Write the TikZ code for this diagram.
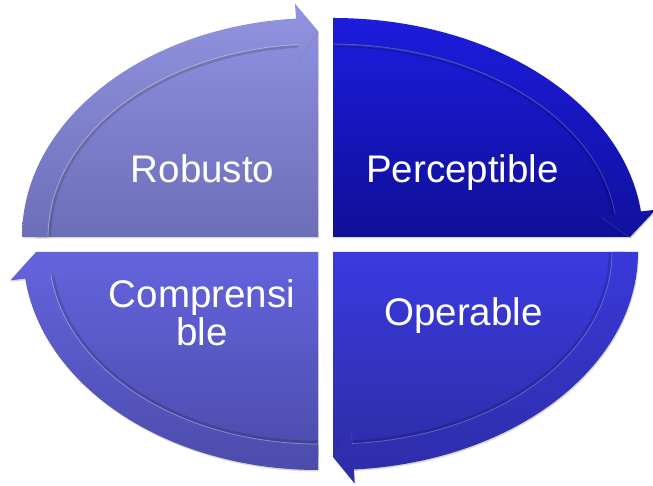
\documentclass[tikz,border=0pt]{standalone}
\usepackage{fontspec}
\setmainfont{Liberation Sans}
\usetikzlibrary{shadows}
\definecolor{tlA}{HTML}{8C8EDF}\definecolor{tlB}{HTML}{6C6EB8}
\definecolor{trA}{HTML}{1C1CDC}\definecolor{trB}{HTML}{0F0F98}
\definecolor{blA}{HTML}{6464DE}\definecolor{blB}{HTML}{4C4CAC}
\definecolor{brA}{HTML}{3A3AE0}\definecolor{brB}{HTML}{2D2DA8}
\tikzset{
  qfill/.style 2 args={top color=#1, bottom color=#2, draw=none},
  qshadow/.style={drop shadow={shadow xshift=0.8pt,shadow yshift=-1.5pt,opacity=0.3}},
  innershade/.style={draw=black, draw opacity=0.15, line width=2.5pt},
  highlight/.style={draw=white, draw opacity=0.35, line width=0.7pt},
  lbl/.style={text=white, font=\fontsize{38.5}{38}\selectfont, inner sep=0pt},
}
\begin{document}
\begin{tikzpicture}[x=1pt,y=1pt]
\useasboundingbox (0,0) rectangle (653,486);
\clip (0,0) rectangle (653,486);
\fill[white] (0,0) rectangle (653,486);

% ---------- top left : Robusto
\begin{scope}[shift={(318,249)}]
  \path[qfill={tlA}{tlB}, qshadow] (0,0) -- (180:283pt and 206pt)
    arc[start angle=180,end angle=90,x radius=283pt,y radius=206pt] -- cycle;
  \path[innershade] (180:268pt and 191pt)
    arc[start angle=180,end angle=94.25,x radius=268pt,y radius=191pt];
  \path[qfill={tlA!95!white}{tlB}, qshadow] (180:296pt and 219pt)
    arc[start angle=180,end angle=94.25,x radius=296pt,y radius=219pt]
    -- (94.25:311pt and 234pt) -- (90:283pt and 206pt) -- (94.25:255pt and 178pt)
    -- (94.25:270pt and 193pt)
    arc[start angle=94.25,end angle=180,x radius=270pt,y radius=193pt] -- cycle;
  \path[highlight] (180:270pt and 193pt)
    arc[start angle=180,end angle=94.25,x radius=270pt,y radius=193pt];
\end{scope}

% ---------- top right : Perceptible
\begin{scope}[shift={(333,249)}]
  \path[qfill={trA}{trB}, qshadow] (0,0) -- (90:297pt and 206pt)
    arc[start angle=90,end angle=0,x radius=297pt,y radius=206pt] -- cycle;
  \path[innershade] (90:282pt and 191pt)
    arc[start angle=90,end angle=6.7,x radius=282pt,y radius=191pt];
  \path[qfill={trA}{trB!90!trA}, qshadow] (90:310pt and 219pt)
    arc[start angle=90,end angle=6.7,x radius=310pt,y radius=219pt]
    -- (6.7:325pt and 234pt) -- (0:297pt and 206pt) -- (6.7:269pt and 178pt)
    -- (6.7:284pt and 193pt)
    arc[start angle=6.7,end angle=90,x radius=284pt,y radius=193pt] -- cycle;
  \path[highlight,draw opacity=0.2] (90:284pt and 193pt)
    arc[start angle=90,end angle=6.7,x radius=284pt,y radius=193pt];
\end{scope}

% ---------- bottom right : Operable
\begin{scope}[shift={(333,234)}]
  \path[qfill={brA}{brB}, qshadow] (0,0) -- (0:292pt and 205pt)
    arc[start angle=0,end angle=-90,x radius=292pt,y radius=205pt] -- cycle;
  \path[innershade] (0:277pt and 190pt)
    arc[start angle=0,end angle=-86.1,x radius=277pt,y radius=190pt];
  \path[qfill={brA!90!brB}{brB}, qshadow] (0:305pt and 218pt)
    arc[start angle=0,end angle=-86.1,x radius=305pt,y radius=218pt]
    -- (-86.1:319pt and 232pt) -- (-90:292pt and 205pt) -- (-86.1:265pt and 178pt)
    -- (-86.1:279pt and 192pt)
    arc[start angle=-86.1,end angle=0,x radius=279pt,y radius=192pt] -- cycle;
  \path[highlight,draw opacity=0.25] (0:279pt and 192pt)
    arc[start angle=0,end angle=-86.1,x radius=279pt,y radius=192pt];
\end{scope}

% ---------- bottom left : Comprensible
\begin{scope}[shift={(318,234)}]
  \path[qfill={blA}{blB}, qshadow] (0,0) -- (270:282pt and 205pt)
    arc[start angle=270,end angle=180,x radius=282pt,y radius=205pt] -- cycle;
  \path[innershade] (270:267pt and 190pt)
    arc[start angle=270,end angle=187,x radius=267pt,y radius=190pt];
  \path[qfill={blA}{blB}, qshadow] (270:295pt and 218pt)
    arc[start angle=270,end angle=187,x radius=295pt,y radius=218pt]
    -- (187:310pt and 233pt) -- (180:282pt and 205pt) -- (187:254pt and 177pt)
    -- (187:269pt and 192pt)
    arc[start angle=187,end angle=270,x radius=269pt,y radius=192pt] -- cycle;
  \path[highlight] (270:269pt and 192pt)
    arc[start angle=270,end angle=187,x radius=269pt,y radius=192pt];
\end{scope}

% ---------- labels
\node[lbl, anchor=base] (rob) at (202.5,303) {Robusto};
\node[lbl, anchor=base] (per) at (462.5,303) {Perceptible};
\node[lbl, anchor=base] (ope) at (463.5,160) {Operable};
\node[lbl, align=center, anchor=base] (com) at (202,140) {Comprensi\\ble};
\end{tikzpicture}
\end{document}
